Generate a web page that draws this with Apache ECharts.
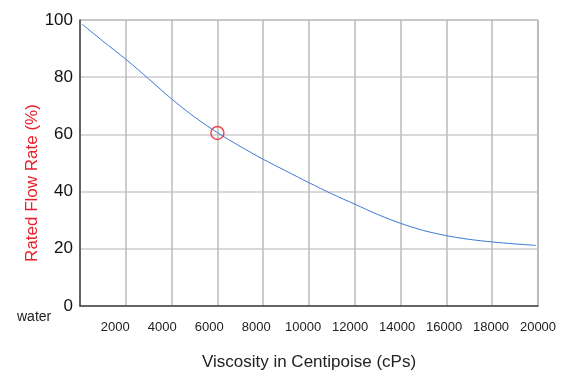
<!DOCTYPE html>
<html>
<head>
<meta charset="utf-8">
<script src="https://cdn.jsdelivr.net/npm/echarts@6/dist/echarts.min.js"></script>
<style>html,body{margin:0;padding:0;background:#fff;}#c{width:571px;height:370px;}</style>
</head>
<body>
<div id="c"></div>
<script>
var viscosity = [100, 1000, 2000, 3000, 4000, 5000, 6000, 7000, 8000, 9000, 10000, 11000, 12000, 13000, 14000, 15000, 16000, 17000, 18000, 19000, 19900];
var flowRate = [98.5, 92.6, 86.3, 79.4, 72.4, 66.1, 60.6, 55.8, 51.3, 47.2, 43.1, 39.2, 35.6, 32.0, 28.9, 26.4, 24.6, 23.3, 22.4, 21.7, 21.2];
var markerPoint = [6000, 60.5];
var xTickLabels = [2000, 4000, 6000, 8000, 10000, 12000, 14000, 16000, 18000, 20000];
var font = 'Liberation Sans, Arial, sans-serif';

var chart = echarts.init(document.getElementById('c'), null, {renderer: 'canvas'});
chart.setOption({
  animation: false,
  backgroundColor: '#fff',
  grid: {left: 80, top: 20, right: 33, bottom: 64, containLabel: false, outerBoundsMode: 'none',
         show: true, borderColor: '#777', borderWidth: 1},
  xAxis: [{
    type: 'value', min: 0, max: 20000, interval: 2000, position: 'bottom',
    axisLine: {show: true, lineStyle: {color: '#444', width: 1.5}},
    axisTick: {show: false},
    axisLabel: {show: false},
    splitLine: {show: true, lineStyle: {color: '#bbb', width: 1.5}}
  }, {
    type: 'value', min: 500, max: 20000, position: 'bottom',
    axisLine: {show: false}, axisTick: {show: false}, splitLine: {show: false},
    axisLabel: {show: true, customValues: xTickLabels, margin: 15, color: '#222', fontSize: 13, fontFamily: font,
                formatter: function (v) { return String(v); }},
    name: 'Viscosity in Centipoise (cPs)', nameLocation: 'middle', nameGap: 48,
    nameTextStyle: {color: '#222', fontSize: 17, fontFamily: font}
  }],
  yAxis: {
    type: 'value', min: 0, max: 100, interval: 20,
    axisLine: {show: true, lineStyle: {color: '#444', width: 1.5}},
    axisTick: {show: false},
    axisLabel: {color: '#111', fontSize: 17, fontFamily: font, margin: 7, padding: [8, 0, 0, 0]},
    splitLine: {show: true, lineStyle: {color: '#ccc', width: 1.5}}
  },
  graphic: [
    {type: 'text', left: 17, top: 310, style: {text: 'water', fill: '#222', font: '14px ' + font}},
    {type: 'text', x: 32, y: 183, rotation: Math.PI / 2,
     style: {text: 'Rated Flow Rate (%)', fill: '#e8202a', font: '17px ' + font, align: 'center', verticalAlign: 'middle'}}
  ],
  series: [{
    type: 'line', xAxisIndex: 0, smooth: 0.3, showSymbol: false,
    data: viscosity.map(function (v, i) { return [v, flowRate[i]]; }),
    lineStyle: {color: '#3a7bd5', width: 1}
  }, {
    type: 'scatter', xAxisIndex: 0, symbol: 'circle', symbolSize: 13,
    data: [markerPoint],
    itemStyle: {color: 'rgba(0,0,0,0)', borderColor: '#e8202a', borderWidth: 1.5}
  }]
});
</script>
</body>
</html>
